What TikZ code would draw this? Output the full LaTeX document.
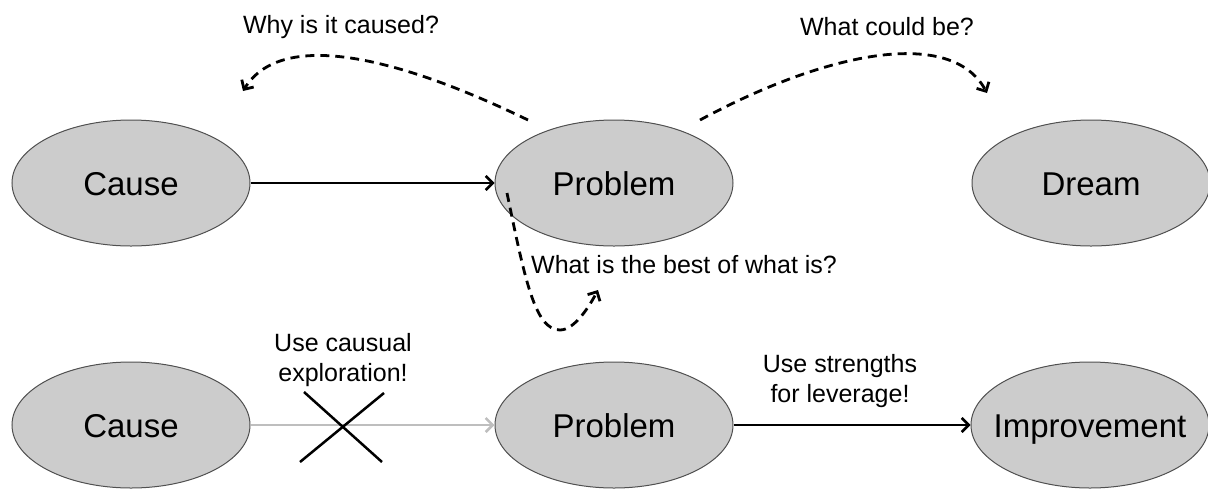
\documentclass[tikz,border=0pt]{standalone}
\usepackage{fontspec}
\setmainfont{Liberation Sans}
\usetikzlibrary{shapes.geometric,arrows.meta}
\definecolor{ellfill}{RGB}{204,204,204}
\definecolor{ellline}{RGB}{80,80,80}
\definecolor{faint}{RGB}{190,190,190}
\tikzset{
  oval/.style={ellipse, draw=ellline, line width=1pt, fill=ellfill, minimum width=238pt, minimum height=126pt, inner ysep=0pt, inner xsep=-40pt, text height=30pt, text depth=6pt, font=\fontsize{33}{36}\selectfont},
  conn/.style={line width=2.5pt, -{Straight Barb[length=7pt,width=14pt,line width=2.5pt]}},
  dconn/.style={line width=2.8pt, dash pattern=on 9pt off 6pt, -{Straight Barb[length=7pt,width=14pt,line width=2.8pt]}},
  lbl/.style={font=\fontsize{25}{30}\selectfont, align=center, inner sep=0pt},
}
\begin{document}
\begin{tikzpicture}[x=1pt,y=-1pt]
\useasboundingbox (0,0) rectangle (1208,488);
% top row
\node[oval] (c1) at (131,183) {Cause};
\node[oval] (p1) at (614,183) {Problem};
\node[oval] (d1) at (1091,183) {Dream};
% bottom row
\node[oval] (c2) at (131,425) {Cause};
\node[oval] (p2) at (614,425) {Problem};
\node[oval] (i2) at (1090,425) {Improvement};
% labels
\node[lbl] (why) at (341,27) {Why is it caused?};
\node[lbl] (could) at (887,27) {What could be?};
\node[lbl, anchor=west] (best) at (531,265) {What is the best of what is?};
\node[lbl] (caus) at (343,360) {Use causual\\exploration!};
\node[lbl] (lev) at (840,381) {Use strengths\\for leverage!};
% connectors
\draw[conn] (c1) -- (p1);
\draw[conn, draw=faint] (c2) -- (p2);
\draw[conn] (p2) -- (i2);
% cross
\coordinate (x1) at (304,392);
\coordinate (x2) at (382,462);
\coordinate (x3) at (384,393);
\coordinate (x4) at (300,462);
\draw[line width=2.5pt] (x1) -- (x2);
\draw[line width=2.5pt] (x3) -- (x4);
% dashed arcs
\coordinate (a1s) at (528,120);
\coordinate (a1e) at (243,91);
\draw[dconn] (a1s) .. controls (400,58) and (282,28) .. (a1e);
\coordinate (a2s) at (700,120);
\coordinate (a2e) at (987,93);
\draw[dconn] (a2s) .. controls (830,50) and (952,28) .. (a2e);
\coordinate (a3s) at (507,193);
\coordinate (a3m) at (560,330);
\coordinate (a3e) at (598,290);
\draw[dconn] (a3s) .. controls (525,280) and (535,330) .. (a3m) .. controls (575,330) and (590,305) .. (a3e);
\end{tikzpicture}
\end{document}
